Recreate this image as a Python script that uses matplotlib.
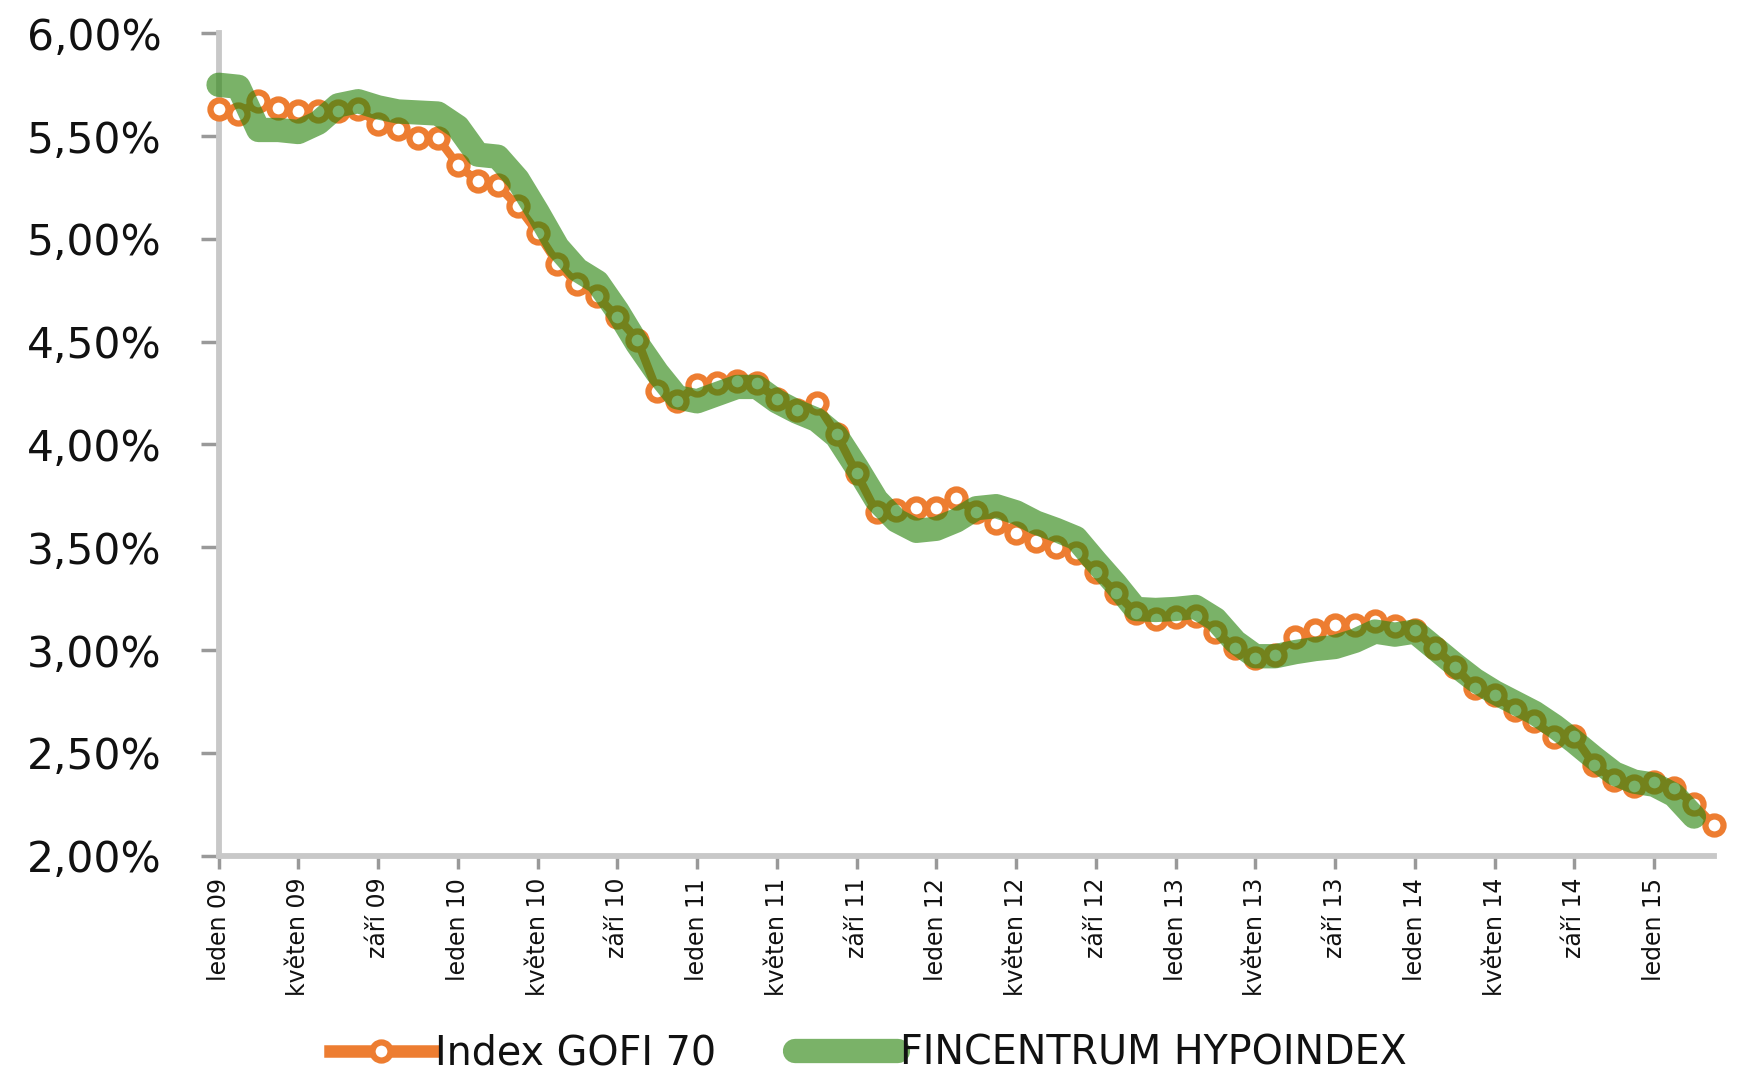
import matplotlib
matplotlib.use("Agg")
import matplotlib.pyplot as plt
from matplotlib.ticker import FixedLocator, FuncFormatter

plt.rcParams['font.family'] = ['DejaVu Sans']

# ---- data -------------------------------------------------------------
months_cz = ["leden", "květen", "září"]
years = ["09", "10", "11", "12", "13", "14", "15"]

gofi70 = [5.63, 5.61, 5.67, 5.635, 5.62, 5.62, 5.62, 5.63, 5.56, 5.535,
          5.49, 5.49, 5.36, 5.28, 5.26, 5.16, 5.03, 4.88, 4.78, 4.72,
          4.62, 4.51, 4.26, 4.21, 4.29, 4.30, 4.31, 4.30, 4.22, 4.17,
          4.20, 4.05, 3.86, 3.67, 3.68, 3.69, 3.69, 3.74, 3.67, 3.62,
          3.57, 3.53, 3.50, 3.47, 3.38, 3.28, 3.18, 3.15, 3.16, 3.165,
          3.09, 3.01, 2.96, 2.975, 3.065, 3.10, 3.12, 3.12, 3.14, 3.115,
          3.10, 3.01, 2.92, 2.815, 2.78, 2.71, 2.655, 2.575, 2.58, 2.44,
          2.37, 2.34, 2.36, 2.33, 2.25, 2.15]

hypoindex = [5.75, 5.74, 5.53, 5.53, 5.52, 5.565, 5.65, 5.67, 5.64, 5.62,
             5.615, 5.61, 5.545, 5.41, 5.40, 5.29, 5.13, 4.96, 4.85, 4.79,
             4.65, 4.49, 4.35, 4.23, 4.21, 4.245, 4.28, 4.28, 4.21, 4.16,
             4.12, 4.04, 3.89, 3.73, 3.63, 3.58, 3.59, 3.63, 3.69, 3.70,
             3.67, 3.62, 3.585, 3.545, 3.43, 3.32, 3.20, 3.195, 3.20, 3.21,
             3.15, 3.04, 2.97, 2.97, 2.99, 3.005, 3.015, 3.045, 3.09, 3.075,
             3.09, 3.01, 2.93, 2.855, 2.795, 2.745, 2.695, 2.63, 2.555, 2.475,
             2.40, 2.36, 2.345, 2.295, 2.19]

series_names = ["Index GOFI 70", "FINCENTRUM HYPOINDEX"]
y_ticks = [2.0, 2.5, 3.0, 3.5, 4.0, 4.5, 5.0, 5.5, 6.0]

# tick labels every 4 months: leden, květen, září of each year (up to leden 15)
x_tick_pos = []
x_tick_labels = []
for yi, yr in enumerate(years):
    for mi, m in enumerate(months_cz):
        pos = yi * 12 + mi * 4
        if pos <= 72:
            x_tick_pos.append(pos)
            x_tick_labels.append(f"{m} {yr}")

# ---- figure -------------------------------------------------------------
fig = plt.figure(figsize=(17.4, 10.76), dpi=100)
ax = fig.add_axes([0.1256, 0.2048, 0.985 - 0.1256, 0.969 - 0.2048])

orange = "#ED7D31"
green_c = (44 / 255, 133 / 255, 16 / 255)

x_g = list(range(len(gofi70)))
x_h = list(range(len(hypoindex)))

ax.plot(x_g, gofi70, color=orange, lw=6, marker='o', ms=13,
        mfc='white', mec=orange, mew=4.5, zorder=3, clip_on=False,
        solid_joinstyle='round', label=series_names[0])
ax.plot(x_h, hypoindex, color=green_c, alpha=0.63, lw=17.5,
        solid_capstyle='round', solid_joinstyle='round', zorder=4,
        clip_on=False, label=series_names[1])

ax.set_xlim(0, 75)
ax.set_ylim(2.0, 6.0)

ax.yaxis.set_major_locator(FixedLocator(y_ticks))
ax.yaxis.set_major_formatter(FuncFormatter(lambda v, p: f"{v:.2f}".replace(".", ",") + "%"))
ax.set_xticks(x_tick_pos)
ax.set_xticklabels(x_tick_labels, rotation=90, fontsize=17, va='top', ha='center')

for s in ["top", "right"]:
    ax.spines[s].set_visible(False)
for s in ["left", "bottom"]:
    ax.spines[s].set_color("#c8c8c8")
    ax.spines[s].set_linewidth(4.2)
    ax.spines[s].set_zorder(2)

ax.tick_params(axis='y', length=13, width=2.5, color="#999999",
               labelsize=30.5, pad=28, labelcolor="#111111")
ax.tick_params(axis='x', length=9, width=2.5, color="#999999",
               pad=7, labelcolor="#111111")

leg = fig.legend(loc='center', bbox_to_anchor=(0.499, 0.021), ncol=2,
                 frameon=False, fontsize=28.5, handlelength=2.6,
                 handletextpad=0.05, columnspacing=2.0)
for t in leg.get_texts():
    t.set_color("#111111")
lines = leg.get_lines()
lines[0].set_linewidth(9)
lines[0].set_markersize(13)
lines[1].set_linewidth(17.5)

fig.savefig("out.png", dpi=100, facecolor="white")
